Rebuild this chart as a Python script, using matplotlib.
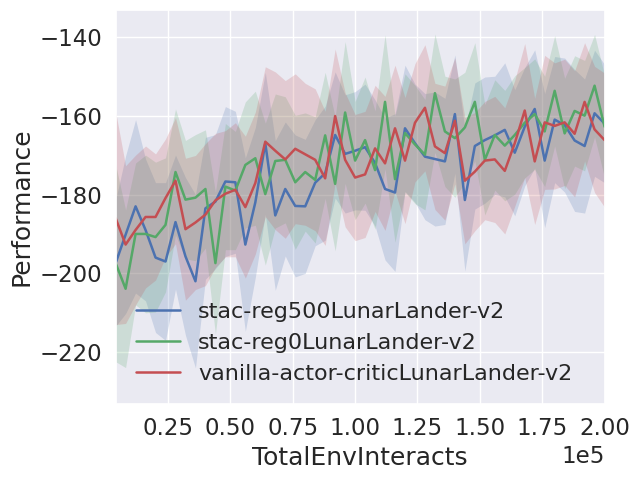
import numpy as np
import matplotlib
matplotlib.use("Agg")
import matplotlib.pyplot as plt
from matplotlib.ticker import MultipleLocator
import seaborn as sns

steps = [4000 * (i + 1) for i in range(50)]

reg500_mean = [-197.4, -190.2, -183, -189, -196, -197, -187, -195.7, -202, -183.5,
               -181.8, -176.7, -176.9, -192.7, -182, -167, -185.3, -178.6, -182.9, -183,
               -177, -174.6, -164.9, -169.7, -168.9, -168, -172, -178.6, -179.5, -163.2,
               -167, -170.4, -171, -171.6, -159.6, -181.4, -167.7, -166.2, -165, -163.6,
               -169.4, -162.8, -158.3, -171.4, -161, -162.4, -166.3, -167.7, -159.4, -162]
reg500_std = [16, 20, 22, 18, 19, 20, 17, 20, 22, 18,
              17, 19, 18, 22, 19, 18, 19, 17, 18, 17,
              16, 17, 16, 15, 15, 16, 16, 18, 20, 16,
              15, 16, 17, 16, 15, 18, 16, 16, 15, 17,
              16, 15, 15, 17, 16, 17, 18, 17, 16, 15]

reg0_mean = [-197.4, -203.9, -190, -190, -190.8, -187.7, -174.3, -181.3, -180.8, -178.6,
             -197.4, -178, -179, -172.5, -170.8, -179.9, -171.5, -171.2, -176.9, -174.3,
             -176.3, -165, -177.3, -159.2, -171.4, -166.2, -173.8, -156.5, -176.1, -164.4,
             -167.3, -169.9, -154.3, -164, -165.7, -163, -156.5, -171.2, -164.9, -167.6,
             -164.9, -161.8, -159.6, -164, -153.7, -164.5, -158.8, -160, -152.4, -162.8]
reg0_std = [25, 20, 18, 20, 19, 17, 16, 15, 16, 15,
            18, 16, 15, 16, 17, 18, 17, 16, 17, 15,
            16, 16, 17, 18, 15, 16, 15, 17, 16, 15,
            15, 14, 15, 14, 15, 14, 15, 14, 14, 14,
            15, 14, 14, 14, 14, 14, 14, 14, 13, 13]

vac_mean = [-186, -192.7, -189, -185.7, -185.7, -180.9, -176.5, -188.8, -187.1, -185.1,
            -181.5, -179.8, -178.8, -183.2, -177.1, -166.6, -168.9, -171.1, -168.4, -169.8,
            -171.2, -175.9, -160.1, -171.2, -175.7, -174.9, -168.3, -172.1, -163.2, -171.4,
            -161.8, -158, -167.8, -169.5, -161.3, -176.5, -174.2, -171.4, -171.1, -174,
            -167, -158.7, -171.6, -161.7, -162.6, -161.7, -164.6, -156.5, -163.5, -166.2]
vac_std = [27, 20, 19, 18, 16, 15, 16, 18, 17, 18,
           17, 16, 17, 18, 18, 19, 20, 20, 19, 18,
           18, 17, 17, 17, 16, 16, 16, 17, 16, 16,
           15, 16, 16, 17, 16, 16, 15, 15, 16, 16,
           16, 17, 16, 17, 16, 16, 16, 15, 16, 17]

sns.set_theme(style="darkgrid", font_scale=1.5)
plt.rcParams['font.family'] = ['DejaVu Sans']

fig, ax = plt.subplots(figsize=(6.4, 4.8), dpi=100)
series = [
    ("stac-reg500LunarLander-v2", reg500_mean, reg500_std, "#4C72B0"),
    ("stac-reg0LunarLander-v2", reg0_mean, reg0_std, "#55A868"),
    ("vanilla-actor-criticLunarLander-v2", vac_mean, vac_std, "#C44E52"),
]
x = np.array(steps)
for label, mean, std, color in series:
    m = np.array(mean)
    s = np.array(std)
    ax.fill_between(x, m - s, m + s, color=color, alpha=0.2, linewidth=0)
    ax.plot(x, m, color=color, linewidth=1.8, label=label)

ax.set_xlim(4000, 200000)
ax.set_ylim(-233.2, -133.2)
ax.xaxis.set_major_locator(MultipleLocator(25000))
ax.set_xlabel("TotalEnvInteracts")
ax.set_ylabel("Performance")
ax.ticklabel_format(axis="x", style="sci", scilimits=(5, 5))
ax.legend(loc="lower left", frameon=False, fontsize=16, handlelength=2.0)
fig.tight_layout(pad=0.4)
fig.savefig("out.png", dpi=100)
